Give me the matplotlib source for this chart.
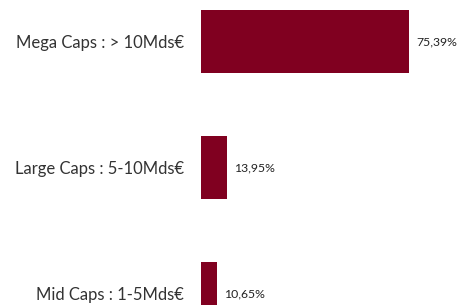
import matplotlib.pyplot as plt

categories = ["Mega Caps : > 10Mds€", "Large Caps : 5-10Mds€", "Mid Caps : 1-5Mds€"]
values = [75.39, 13.95, 10.65]
value_labels = ["75,39%", "13,95%", "10,65%"]

plt.rcParams["font.family"] = ["Lato", "DejaVu Sans"]

fig = plt.figure(figsize=(4.59, 3.05), dpi=100)
ax = fig.add_axes([201 / 459, 0, 258 / 459, 1])

pos = list(range(len(categories)))
ax.barh(pos, values, height=0.5, color="#800020", left=0)
ax.set_xlim(5.17, 92.3)
ax.set_ylim(2.091, -0.329)

for p, v, lab in zip(pos, values, value_labels):
    ax.annotate(lab, (v, p), xytext=(5, 0), textcoords="offset points",
                ha="left", va="center", fontsize=8.8, color="#222222")

ax.set_yticks(pos)
ax.set_yticklabels(categories, fontsize=12, color="#333333")
ax.tick_params(axis="y", length=0, pad=12)
ax.set_xticks([])
for s in ax.spines.values():
    s.set_visible(False)

fig.savefig("out.png", dpi=100)
